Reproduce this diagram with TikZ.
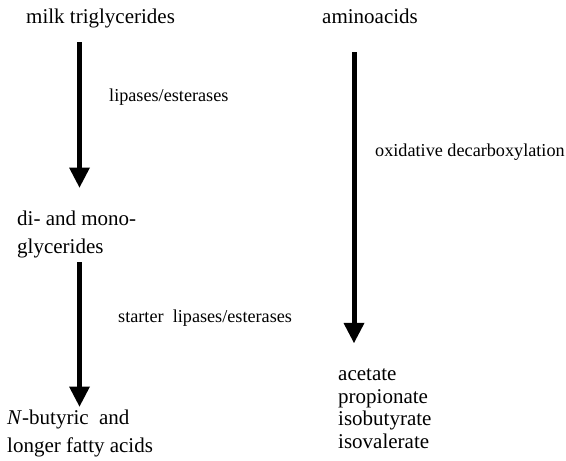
\documentclass[tikz,border=0pt]{standalone}
\usepackage{fontspec}
\setmainfont{Liberation Serif}
\usetikzlibrary{arrows.meta, positioning}

\begin{document}
\begin{tikzpicture}[
        x=1pt, y=1pt,
        % Styles des textes
        substrate/.style = {
            inner sep=0pt,
            anchor=base west,
            align=left,
            font=\fontsize{21}{28}\selectfont
        },
        product/.style = {
            substrate,
            font=\fontsize{21}{22.4}\selectfont
        },
        enzyme/.style = {
            inner sep=0pt,
            anchor=base west,
            font=\fontsize{18.2}{22}\selectfont
        },
        % Style des flèches
        arrow/.style = {
            -{Triangle[length=20pt, width=21pt, line width=0pt]},
            line width=5pt,
            draw=black
        }
    ]
        \useasboundingbox (0,0) rectangle (566,-461);

        % 1. Placement des nœuds (Nodes) -- base = dernière ligne
        \node (milk)    [substrate] at (26,-23)  {milk triglycerides};
        \node (amino)   [substrate] at (322,-23) {aminoacids};
        \node (glyc)    [substrate] at (17,-253) {di- and mono-\\glycerides};
        \node (fatty)   [substrate] at (7,-452)  {\textit{N}-butyric\ \ and\\longer fatty acids};
        \node (volat)   [product]   at (338,-448) {acetate\\propionate\\isobutyrate\\isovalerate};

        \node (lip)     [enzyme] at (109,-101) {lipases/esterases};
        \node (oxid)    [enzyme] at (375,-156) {oxidative decarboxylation};
        \node (starter) [enzyme] at (118,-322) {starter\ \ lipases/esterases};

        % 2. Tracé des flèches (Arrows)
        \coordinate (left)  at (79.5,0);
        \coordinate (right) at (354,0);
        \draw [arrow, shorten <=14.4pt, shorten >=22.7pt] (milk.south -| left) -- (glyc.north -| left);
        \draw [arrow, shorten <=4.4pt, shorten >=2.7pt] (glyc.south -| left) -- (fatty.north -| left);
        \draw [arrow, shorten <=29pt, shorten >=25.8pt] (amino.south -| right) -- (volat.north -| right);

    \end{tikzpicture}
\end{document}
